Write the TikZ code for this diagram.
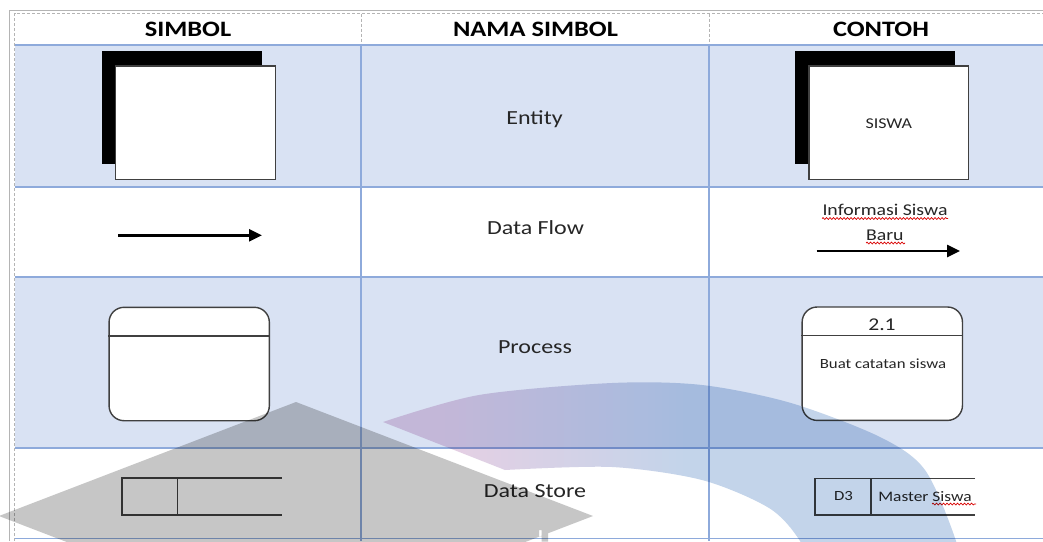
\documentclass[tikz,border=0pt]{standalone}
\usepackage{fontspec}
\setmainfont{Carlito}[FakeStretch=1.2]
\usetikzlibrary{arrows.meta,decorations.pathmorphing}

\definecolor{rowfill}{HTML}{D9E2F3}
\definecolor{rule}{HTML}{8EAADB}
\definecolor{frame}{HTML}{B4B4B4}
\definecolor{ink}{HTML}{262626}
\definecolor{edge}{HTML}{404040}
\definecolor{capgrey}{HTML}{C6C6C6}
\definecolor{swl}{HTML}{E6CFE3}
\definecolor{swb}{HTML}{C3D4EA}

% colour run of the swoosh, left (lavender) to right (blue)
\pgfdeclarehorizontalshading{swoosh}{100bp}{color(0bp)=(swl); color(30bp)=(swl); color(51bp)=(swb); color(100bp)=(swb)}

\tikzset{
  hdr/.style={font=\fontsize{22}{26}\selectfont\bfseries, text=black, anchor=base, inner sep=0pt},
  lbl/.style={font=\fontsize{20}{24}\selectfont, text=ink, anchor=base, inner sep=0pt},
  tiny/.style={font=\fontsize{#1}{#1}\selectfont, text=ink, anchor=base, inner sep=0pt},
  rowline/.style={rule, line width=1.5pt},
  outerline/.style={frame, line width=0.7pt},
  dashline/.style={frame, line width=1pt, dash pattern=on 3pt off 2pt},
  shadow/.style={fill=black, draw=none},
  entbox/.style={draw=edge, fill=white, line width=1.3pt, minimum width=159.6pt, minimum height=113.3pt, inner sep=0pt},
  procbox/.style={draw=edge, fill=white, line width=1.4pt, rounded corners=15pt, minimum width=160.3pt, minimum height=113.4pt, inner sep=0pt},
  shapeedge/.style={edge, line width=1.3pt},
  flow/.style={black, line width=2.5pt, -{Triangle[length=13pt,width=12pt]}},
  squiggle/.style={red!85!black, line width=0.7pt, decorate, decoration={snake, amplitude=0.9pt, segment length=3.5pt}},
}

\begin{document}
\begin{tikzpicture}[x=1pt, y=-1pt]
\useasboundingbox (0,0) rectangle (1043,541);
\fill[white] (0,0) rectangle (1043,541);

% shaded rows
\fill[rowfill] (14.5,45) rectangle (1043,187);
\fill[rowfill] (14.5,277) rectangle (1043,448);

% outer frame and dashed header borders
\draw[outerline] (9.3,541) -- (9.3,10.7) -- (1043,10.7);
\draw[dashline] (14.5,541) -- (14.5,13.5) -- (1043,13.5);
\draw[dashline] (361,13.5) -- (361,45);
\draw[dashline] (709,13.5) -- (709,45);

% grid
\foreach \yy in {45,187,277,448,538.5}
  \draw[rowline] (14.5,\yy) -- (1043,\yy);
\draw[rowline] (361,45) -- (361,541);
\draw[rowline] (709,45) -- (709,541);

% header
\node[hdr] (h1) at (188,36.5) {SIMBOL};
\node[hdr] (h2) at (535.5,36.5) {NAMA SIMBOL};
\node[hdr] (h3) at (881,36.5) {CONTOH};

% names
\node[lbl] (n1) at (534.5,124.5) {Entity};
\node[lbl] (n2) at (535.5,234.5) {Data Flow};
\node[lbl] (n3) at (535,353.5) {Process};
\node[lbl] (n4) at (535,497) {Data Store};

% entity
\fill[shadow] (101.7,50.7) rectangle (261.7,164);
\node[entbox] (e1) at (195.5,122.65) {};
\fill[shadow] (795,51) rectangle (955,164);
\node[entbox] (e2) at (888.65,122.65) {};
\node[tiny=15] (e2t) at (888.8,128) {SISWA};

% data flow
\coordinate (f1s) at (118,235.3);
\coordinate (f1e) at (262,235.3);
\draw[flow] (f1s) -- (f1e);
\coordinate (f2s) at (816.7,251);
\coordinate (f2e) at (960,251);
\draw[flow] (f2s) -- (f2e);
\node[tiny=16.5] (f2a) at (885,215) {Informasi Siswa};
\node[tiny=16.5] (f2b) at (884.8,240.5) {Baru};
\draw[squiggle] (822,218.5) -- (948,218.5);
\draw[squiggle] (866,243) -- (905,243);

% process
\node[procbox] (p1) at (189.2,364) {};
\draw[shapeedge] (p1.west |- 0,336) -- (p1.east |- 0,336);
\node[procbox] (p2) at (882.3,363.7) {};
\draw[shapeedge] (p2.west |- 0,335.7) -- (p2.east |- 0,335.7);
\node[tiny=18] (p2n) at (882,330) {2.1};
\node[tiny=14] (p2t) at (883,368.5) {Buat catatan siswa};

% data store
\draw[shapeedge] (281.6,478) -- (122,478) -- (122,515) -- (281.6,515);
\draw[shapeedge] (177.4,478) -- (177.4,515);
\draw[shapeedge] (975,478.3) -- (815,478.3) -- (815,515) -- (975,515);
\draw[shapeedge] (871,478.3) -- (871,515);
\node[tiny=14] (d2a) at (843.5,500.5) {D3};
\node[tiny=14.5] (d2b) at (925,501) {Master Siswa};
\draw[squiggle] (932,504) -- (976,504);

% cap and swoosh emblem, multiplied onto the table
\begin{scope}[blend mode=multiply]
  \clip (0,0) rectangle (1043,541);
  \fill[capgrey, nonzero rule]
    (296,402) -- (593,516) -- (296,630) -- (-1,516) -- cycle
    (539,530) rectangle (541.5,536.4)
    (541.5,530) -- (548,530) -- (548,541.5) -- (541.5,541.5) -- cycle;
  \shade[shading=swoosh]
    plot[smooth] coordinates {(383,422) (479,395) (612,383) (702,385) (791,403) (880,437) (925,470) (956,541) (965,590)}
    -- plot[smooth] coordinates {(822,590) (800,541) (769,508) (702,480) (612,467) (505,470)}
    -- cycle;
\end{scope}
\end{tikzpicture}
\end{document}
